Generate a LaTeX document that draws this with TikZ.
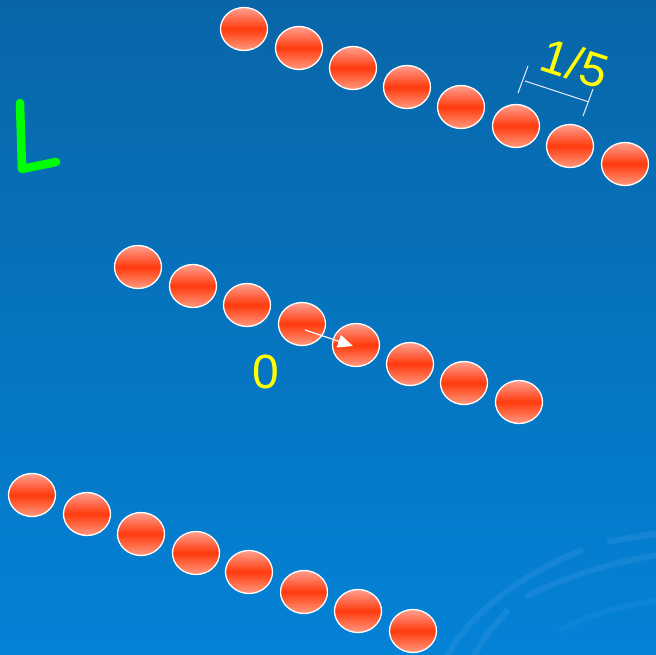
\documentclass[tikz,border=0pt]{standalone}
\usepackage{fontspec}
\setmainfont{Liberation Sans}
\usetikzlibrary{shapes.geometric,arrows.meta}
\definecolor{bgtop}{HTML}{0866A8}
\definecolor{bgbot}{HTML}{0482D6}
\definecolor{swirl}{HTML}{2A90DC}
\definecolor{balltop}{HTML}{FFA090}
\definecolor{ballmid}{HTML}{FF3A0C}
\definecolor{ballbot}{HTML}{FF9A80}
\definecolor{lgreen}{HTML}{00FF00}
\definecolor{lyellow}{HTML}{FFFF00}
\tikzset{
  ball/.style={ellipse, draw=white, line width=1.3pt, minimum width=47pt, minimum height=43pt, inner sep=0pt,
    top color=balltop, bottom color=ballbot, middle color=ballmid},
  lbl/.style={text=lyellow, font=\fontsize{48}{48}\selectfont, inner sep=0pt},
  dimline/.style={draw=white!92!blue, line width=1pt},
  swirlarc/.style={draw=swirl, line width=6pt, opacity=0.45}
}
\begin{document}
\begin{tikzpicture}[x=1pt,y=-1pt]
\useasboundingbox (0,0) rectangle (656,655);
\shade[top color=bgtop, bottom color=bgbot] (0,0) rectangle (656,655);
% swirl arcs
\begin{scope}
\clip (0,0) rectangle (656,655);
\draw[swirlarc] (583,550) .. controls (530,570) and (470,610) .. (445,660);
\draw[swirlarc] (607,542) .. controls (625,539) and (645,535) .. (660,533);
\draw[swirlarc] (525,597) .. controls (570,575) and (620,560) .. (660,555);
\draw[swirlarc] (508,610) .. controls (495,625) and (480,640) .. (473,660);
\draw[swirlarc, opacity=0.25] (560,630) .. controls (600,610) and (630,605) .. (660,600);
\end{scope}
% L
\draw[lgreen, line width=8.5pt, line cap=round, line join=round] (20,103) -- (22,169) -- (56,162);
% top row
\foreach \i/\x/\y in {1/244/29,2/299/48,3/353/68,4/407/87,5/461/107,6/516/126,7/570/146,8/625/164}
  \node[ball] (t\i) at (\x,\y) {};
% middle row
\foreach \i/\x/\y in {1/138/267,2/193/286,3/247/305,4/302/324,5/356/345,6/410/364,7/464/383,8/519/402}
  \node[ball] (m\i) at (\x,\y) {};
% bottom row
\foreach \i/\x/\y in {1/32/495,2/87/514,3/141/534,4/196/553,5/249/572,6/304/592,7/358/611,8/413/631}
  \node[ball] (b\i) at (\x,\y) {};
% arrow
\coordinate (as) at ([shift={(3,6)}]m4.center);
\coordinate (ae) at ([shift={(-3,1)}]m5.center);
\draw[white, line width=1.2pt, -{Triangle[length=15pt,width=13pt]}] (as) -- (ae);
% labels
\node[lbl] (zero) at (266,372) {0};
\node[lbl, rotate=-18] (frac) at (575,63) {1/5};
% dimension
\coordinate (d1) at (525,81);
\coordinate (d2) at (589,102);
\coordinate (d1a) at (528,66);
\coordinate (d1b) at (518,93);
\coordinate (d2a) at (593,89);
\coordinate (d2b) at (583,116);
\draw[dimline] (d1) -- (d2);
\draw[dimline] (d1a) -- (d1b);
\draw[dimline] (d2a) -- (d2b);
\end{tikzpicture}
\end{document}
